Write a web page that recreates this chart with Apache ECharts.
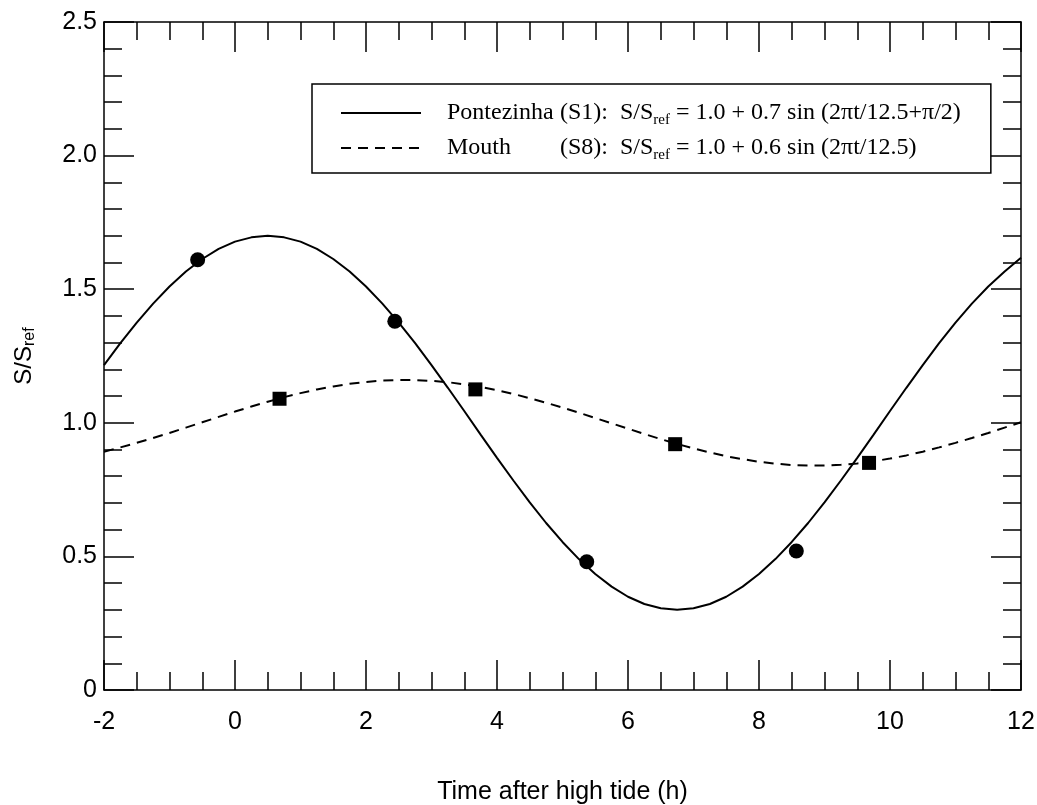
<!DOCTYPE html>
<html>
<head>
<meta charset="utf-8">
<script src="https://cdn.jsdelivr.net/npm/echarts@6/dist/echarts.min.js"></script>
<style>
  html, body { margin: 0; padding: 0; background: #fff; }
  #chart { width: 1037px; height: 805px; }
</style>
</head>
<body>
<div id="chart"></div>
<script>
// time after high tide (h), every quarter hour
const tHours = [
  -2, -1.75, -1.5, -1.25, -1, -0.75, -0.5, -0.25, 0, 0.25, 0.5, 0.75, 1, 1.25, 1.5, 1.75,
  2, 2.25, 2.5, 2.75, 3, 3.25, 3.5, 3.75, 4, 4.25, 4.5, 4.75, 5, 5.25, 5.5, 5.75,
  6, 6.25, 6.5, 6.75, 7, 7.25, 7.5, 7.75, 8, 8.25, 8.5, 8.75, 9, 9.25, 9.5, 9.75,
  10, 10.25, 10.5, 10.75, 11, 11.25, 11.5, 11.75, 12
];
const pontezinhaFit = [
  1.216, 1.298, 1.375, 1.446, 1.510, 1.566, 1.613, 1.651, 1.678, 1.694, 1.700, 1.694, 1.678, 1.651, 1.613, 1.566,
  1.510, 1.446, 1.375, 1.298, 1.216, 1.131, 1.044, 0.956, 0.869, 0.784, 0.702, 0.625, 0.554, 0.490, 0.434, 0.387,
  0.349, 0.322, 0.306, 0.300, 0.306, 0.322, 0.349, 0.387, 0.434, 0.490, 0.554, 0.625, 0.702, 0.784, 0.869, 0.956,
  1.044, 1.131, 1.216, 1.298, 1.375, 1.446, 1.510, 1.566, 1.618
];
const mouthFit = [
  0.892, 0.908, 0.925, 0.943, 0.962, 0.982, 1.002, 1.022, 1.042, 1.061, 1.079, 1.096, 1.111, 1.125, 1.136, 1.146,
  1.153, 1.158, 1.160, 1.160, 1.157, 1.152, 1.144, 1.134, 1.122, 1.108, 1.092, 1.075, 1.057, 1.038, 1.018, 0.998,
  0.978, 0.958, 0.939, 0.921, 0.904, 0.889, 0.875, 0.864, 0.854, 0.847, 0.842, 0.840, 0.840, 0.843, 0.848, 0.856,
  0.866, 0.878, 0.892, 0.908, 0.925, 0.943, 0.962, 0.982, 1.002
];

// measured points
const pontezinhaObsT = [-0.57, 2.44, 5.37, 8.57];
const pontezinhaObsS = [1.61, 1.38, 0.48, 0.52];
const mouthObsT = [0.68, 3.67, 6.72, 9.68];
const mouthObsS = [1.09, 1.125, 0.92, 0.85];

// tick labels
const yTickLabels = ['0', '0.5', '1.0', '1.5', '2.0', '2.5'];

const pair = (xs, ys) => xs.map((x, i) => [x, ys[i]]);

const sans = 'Liberation Sans, Arial, sans-serif';
const serif = 'Liberation Serif, Times New Roman, serif';

const tickCommon = {
  axisLine: { show: true, onZero: false, lineStyle: { color: '#000', width: 1.5 } },
  axisTick: { show: true, inside: true, length: 30, lineStyle: { color: '#000', width: 1.5 } },
  minorTick: { show: true, length: 18, lineStyle: { color: '#000', width: 1.5 } },
  splitLine: { show: false },
};

const xBase = { type: 'value', min: -2, max: 12, interval: 2, ...tickCommon };
xBase.minorTick = { ...tickCommon.minorTick, splitNumber: 4 };
const yBase = { type: 'value', min: 0, max: 2.5, interval: 0.5, ...tickCommon };
yBase.minorTick = { ...tickCommon.minorTick, splitNumber: 5 };

const legendRich = {
  g: { width: 21 },
  n: { fontFamily: serif, fontSize: 24, color: '#000', width: 113, lineHeight: 30 },
  c: { fontFamily: serif, fontSize: 24, color: '#000', lineHeight: 30 },
  sub: { fontFamily: serif, fontSize: 15, color: '#000', lineHeight: 15, verticalAlign: 'bottom' },
};
const legendText = {
  'Pontezinha': '{g| }{n|Pontezinha}{c|(S1):  S/S}{sub|ref}{c| = 1.0 + 0.7 sin (2πt/12.5+π/2)}',
  'Mouth': '{g| }{n|Mouth}{c|(S8):  S/S}{sub|ref}{c| = 1.0 + 0.6 sin (2πt/12.5)}',
};

const chart = echarts.init(document.getElementById('chart'));
chart.setOption({
  backgroundColor: '#fff',
  animation: false,
  grid: { left: 104, right: 16, top: 22, bottom: 115, containLabel: false, outerBoundsMode: 'none' },
  legend: {
    orient: 'vertical',
    left: 312,
    top: 84,
    data: ['Pontezinha', 'Mouth'],
    borderColor: '#000',
    borderWidth: 1.5,
    borderRadius: 0,
    padding: [17, 30, 10, 28],
    itemGap: 8,
    itemWidth: 80,
    itemHeight: 20,
    itemStyle: { opacity: 0 },
    selectedMode: false,
    formatter: name => legendText[name],
    textStyle: { rich: legendRich },
  },
  xAxis: [
    {
      ...xBase,
      position: 'bottom',
      axisLabel: { color: '#000', fontFamily: sans, fontSize: 25, margin: 20 },
      name: 'Time after high tide (h)',
      nameLocation: 'middle',
      nameGap: 90,
      nameTextStyle: { color: '#000', fontFamily: sans, fontSize: 25 },
    },
    { ...xBase, position: 'top', axisLabel: { show: false } },
  ],
  yAxis: [
    {
      ...yBase,
      position: 'left',
      axisLabel: {
        color: '#000', fontFamily: sans, fontSize: 25, margin: 7,
        formatter: v => yTickLabels[Math.round(v / 0.5)],
      },
      name: '{s|S/S}{sub|ref}',
      nameLocation: 'middle',
      nameGap: 66,
      nameTextStyle: {
        rich: {
          s: { fontFamily: sans, fontSize: 24, color: '#000', lineHeight: 28 },
          sub: { fontFamily: sans, fontSize: 16, color: '#000', lineHeight: 16, verticalAlign: 'bottom' },
        },
      },
    },
    { ...yBase, position: 'right', axisLabel: { show: false } },
  ],
  series: [
    {
      name: 'Pontezinha',
      type: 'line',
      data: pair(tHours, pontezinhaFit),
      showSymbol: false,
      symbol: 'none',
      lineStyle: { color: '#000', width: 2, type: 'solid' },
      itemStyle: { color: '#000' },
    },
    {
      name: 'Mouth',
      type: 'line',
      data: pair(tHours, mouthFit),
      showSymbol: false,
      symbol: 'none',
      lineStyle: { color: '#000', width: 2, type: [10, 7] },
      itemStyle: { color: '#000' },
    },
    {
      name: 'Pontezinha obs',
      type: 'scatter',
      data: pair(pontezinhaObsT, pontezinhaObsS),
      symbol: 'circle',
      symbolSize: 15,
      itemStyle: { color: '#000', opacity: 1 },
      z: 5,
    },
    {
      name: 'Mouth obs',
      type: 'scatter',
      data: pair(mouthObsT, mouthObsS),
      symbol: 'rect',
      symbolSize: 14,
      itemStyle: { color: '#000', opacity: 1 },
      z: 5,
    },
  ],
});
</script>
</body>
</html>
